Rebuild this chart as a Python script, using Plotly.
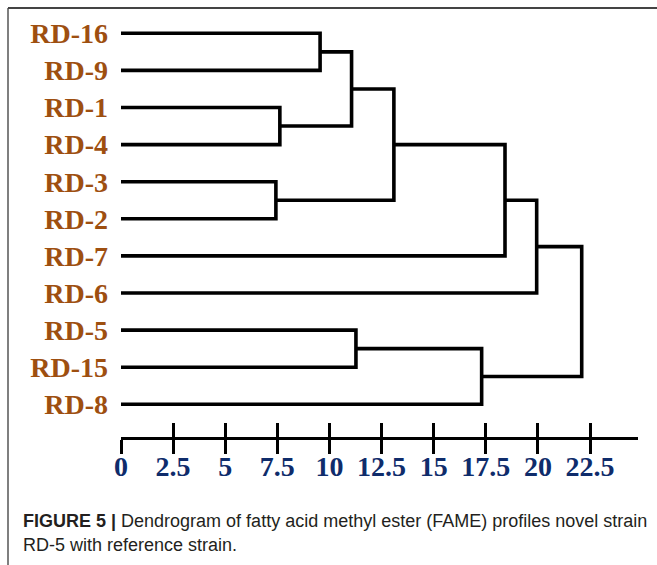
import plotly.graph_objects as go

# ---------------- data ----------------
leaf_labels = ["RD-16", "RD-9", "RD-1", "RD-4", "RD-3", "RD-2",
               "RD-7", "RD-6", "RD-5", "RD-15", "RD-8"]
# merges: (child_a, child_b, distance); leaves by name, clusters by merge name
merge_names = ["A", "B", "C", "D", "E", "F", "G", "H", "I", "J"]
merge_left = ["RD-16", "RD-1", "RD-3", "A", "D", "E", "F", "RD-5", "H", "G"]
merge_right = ["RD-9", "RD-4", "RD-2", "B", "C", "RD-7", "RD-6", "RD-15", "RD-8", "I"]
merge_dist = [9.55, 7.62, 7.43, 11.06, 13.09, 18.42, 19.94, 11.27, 17.30, 22.10]
tick_vals = [0, 2.5, 5, 7.5, 10, 12.5, 15, 17.5, 20, 22.5]
tick_text = ["0", "2.5", "5", "7.5", "10", "12.5", "15", "17.5", "20", "22.5"]
caption_bold = "FIGURE 5 |"
caption_line1 = " Dendrogram of fatty acid methyl ester (FAME) profiles novel strain"
caption_line2 = "RD-5 with reference strain."

# ---------------- layout constants (pixels) ----------------
W, H = 657, 565
L, R, T, B = 121, 638, 20, 437
X_MAX = 24.8
Y_RANGE = [10.881, -0.358]


def px(x):
    return (x - L) / (R - L)


def py(y):
    return (B - y) / (B - T)


# ---------------- build dendrogram path ----------------
pos = {name: (float(i), 0.0) for i, name in enumerate(leaf_labels)}
xs, ys = [], []
for name, a, b, d in zip(merge_names, merge_left, merge_right, merge_dist):
    ya, ha = pos[a]
    yb, hb = pos[b]
    xs += [ha, d, d, hb, None]
    ys += [ya, ya, yb, yb, None]
    pos[name] = ((ya + yb) / 2.0, d)

fig = go.Figure()
fig.add_trace(go.Scatter(
    x=xs, y=ys, mode="lines",
    line=dict(color="black", width=3.6),
    hoverinfo="skip", showlegend=False,
))
# invisible trace for the inside-tick companion axis
fig.add_trace(go.Scatter(x=[0], y=[0], xaxis="x2", mode="markers",
                         marker=dict(opacity=0), hoverinfo="skip",
                         showlegend=False))

brown = "#9E4F10"
navy = "#0F2C6B"

fig.update_layout(
    width=W, height=H,
    margin=dict(l=L, r=W - R, t=T, b=H - B, pad=0),
    paper_bgcolor="white", plot_bgcolor="white",
    xaxis=dict(
        range=[0, X_MAX], showgrid=False, zeroline=False,
        showline=True, linewidth=3, linecolor="black",
        ticks="outside", ticklen=14, tickwidth=3, tickcolor="black",
        tickvals=tick_vals, ticktext=tick_text,
        tickfont=dict(family="Liberation Serif, Times New Roman, serif",
                      size=28, color=navy, weight="bold"),
        ticklabelstandoff=-12,
        fixedrange=True,
    ),
    xaxis2=dict(
        range=[0, X_MAX], overlaying="x", anchor="y", side="bottom",
        showgrid=False, zeroline=False, showline=False,
        ticks="inside", ticklen=14, tickwidth=3, tickcolor="black",
        tickvals=tick_vals, showticklabels=False,
    ),
    yaxis=dict(
        range=Y_RANGE, showgrid=False, zeroline=False, showline=False,
        ticks="", tickvals=list(range(len(leaf_labels))),
        ticktext=leaf_labels,
        tickfont=dict(family="Liberation Serif, Times New Roman, serif",
                      size=28, color=brown, weight="bold"),
        ticklabelstandoff=12,
        fixedrange=True,
    ),
    shapes=[
        dict(type="line", xref="paper", yref="paper",
             x0=px(8), x1=px(8), y0=py(8), y1=py(H + 5),
             line=dict(color="#555555", width=1.5)),
        dict(type="line", xref="paper", yref="paper",
             x0=px(8), x1=px(W + 5), y0=py(8), y1=py(8),
             line=dict(color="#444444", width=2)),
    ],
    annotations=[
        dict(xref="paper", yref="paper", x=px(21), y=py(521),
             xanchor="left", yanchor="middle", showarrow=False,
             text="<b>" + caption_bold + "</b>" + caption_line1,
             font=dict(family="Liberation Sans, Arial, sans-serif",
                       size=18, color="#231F20")),
        dict(xref="paper", yref="paper", x=px(21), y=py(545),
             xanchor="left", yanchor="middle", showarrow=False,
             text=caption_line2,
             font=dict(family="Liberation Sans, Arial, sans-serif",
                       size=18, color="#231F20")),
    ],
)

fig.write_html("out.html")
